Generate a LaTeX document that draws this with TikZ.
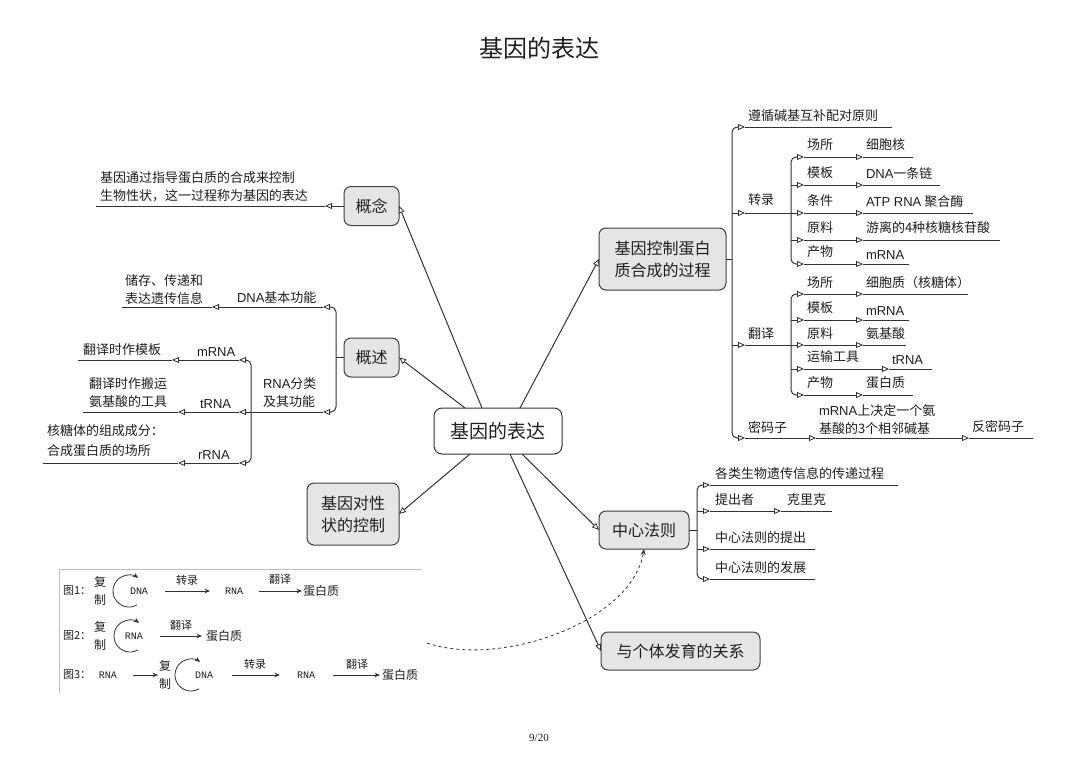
\documentclass[tikz,border=0pt]{standalone}
\usepackage{fontspec}
\setmainfont{Noto Sans CJK SC}
\newfontfamily\lat{Liberation Sans}
\newfontfamily\mono{Liberation Mono}
\newfontfamily\serifnum{Liberation Serif}
\usetikzlibrary{arrows.meta,calc}
\begin{document}
\begin{tikzpicture}[x=1pt,y=-1pt,
  every node/.style={inner sep=0pt, outer sep=0pt, text=black!88},
  lab/.style={anchor=west, font=\fontsize{13}{18}\selectfont, align=left},
  box/.style={draw=black!75, line width=1pt, rounded corners=7pt, fill=black!10,
    font=\fontsize{16}{22}\selectfont, align=center},
  ln/.style={line width=1pt, draw=black!80},
  tip/.style={ln, -{Triangle[length=7pt, width=6pt, fill=white, line width=0.8pt]}},
  rc/.style={rounded corners=5pt},
  sarr/.style={line width=0.8pt, draw=black!80, -{Stealth[length=5.5pt, width=4.5pt]}},
  simg/.style={font=\fontsize{12}{12}\selectfont},
  smono/.style={font=\mono\fontsize{10}{10}\selectfont},
  slab/.style={font=\fontsize{11}{11}\selectfont}
]
\fill[white] (0,0) rectangle (1080,764);
\useasboundingbox (0,0) rectangle (1080,764);

% title and page number
\node[font=\fontsize{24}{28}\selectfont] (title) at (539,48) {基因的表达};
\node[font=\serifnum\fontsize{11}{11}\selectfont] (page) at (539,738) {9/20};

% main nodes
\node[draw=black!80, line width=1pt, rounded corners=8pt, fill=white,
  minimum width=128pt, minimum height=46pt, font=\fontsize{19}{22}\selectfont] (c) at (498,431) {基因的表达};
\node[box, minimum width=55pt, minimum height=39pt] (gn) at (371.5,206) {概念};
\node[box, minimum width=55pt, minimum height=39pt] (gs) at (371.5,357.5) {概述};
\node[box, minimum width=92pt, minimum height=62pt] (jd) at (353,514) {基因对性\\状的控制};
\node[box, minimum width=127pt, minimum height=62pt] (jk) at (662.5,259) {基因控制蛋白\\质合成的过程};
\node[box, minimum width=90pt, minimum height=38pt] (zx) at (644,530) {中心法则};
\node[box, minimum width=159pt, minimum height=38pt] (fy) at (680.5,651) {与个体发育的关系};

% connectors from the centre
\draw[tip] ([xshift=-16pt]c.north) -- (gn.east);
\draw[tip] ([xshift=-33pt]c.north) -- (gs.east);
\draw[tip] ([xshift=22pt]c.north) -- (jk.west);
\draw[tip] ([xshift=-28pt]c.south) -- (jd.east);
\draw[tip] ([xshift=12pt]c.south) -- (fy.west);
\draw[tip] ([xshift=24pt]c.south) -- (zx.west);

% dashed curve
\coordinate (ds) at (427,643);
\draw[line width=0.8pt, draw=black!80, dashed, -{Stealth[length=6pt, width=5pt]}]
  (ds) .. controls (500,668) and (632,622) .. (zx.south);

% ===== right tree: 基因控制蛋白质合成的过程 =====
\coordinate (S) at (732,259);
\draw[ln] (jk.east) -- (S);
\draw[tip, rc] (S) -- (732,127) -- (745,127);
\draw[tip, rc] (S) -- (732,438) -- (745,438);
\draw[tip] (732,213) -- (745,213);
\draw[tip] (732,345) -- (745,345);
\draw[ln] (745,127) -- (892,127);
\node[lab] (r1) at (748,116) {遵循碱基互补配对原则};
% 转录
\draw[ln] (745,213) -- (791,213);
\node[lab] (zl) at (748,200) {转录};
\draw[tip, rc] (791,213) -- (791,157) -- (804,157);
\draw[tip, rc] (791,213) -- (791,264) -- (804,264);
\foreach \y in {185,213,240} {\draw[tip] (791,\y) -- (804,\y);}
\foreach \y/\e in {157/913,185/940,213/973,240/1000,264/909} {
  \draw[tip] (804,\y) -- (863,\y);
  \draw[ln] (863,\y) -- (\e,\y);
}
\node[lab] (za1) at (807,145) {场所};
\node[lab] (zb1) at (866,145) {细胞核};
\node[lab] (za2) at (807,173) {模板};
\node[lab] (zb2) at (866,174) {{\lat DNA}一条链};
\node[lab] (za3) at (807,201) {条件};
\node[lab] (zb3) at (866,202) {{\lat ATP RNA} 聚合酶};
\node[lab] (za4) at (807,228) {原料};
\node[lab] (zb4) at (866,228) {游离的4种核糖核苷酸};
\node[lab] (za5) at (807,252) {产物};
\node[lab] (zb5) at (866,255) {{\lat mRNA}};
% 翻译
\draw[ln] (745,345) -- (791,345);
\node[lab] (fl) at (748,334) {翻译};
\draw[tip, rc] (791,345) -- (791,294) -- (804,294);
\draw[tip, rc] (791,345) -- (791,395) -- (804,395);
\foreach \y in {320,345,369} {\draw[tip] (791,\y) -- (804,\y);}
\foreach \y/\e in {294/968,320/909,345/906,395/913} {
  \draw[tip] (804,\y) -- (863,\y);
  \draw[ln] (863,\y) -- (\e,\y);
}
\draw[tip] (804,369) -- (889,369);
\draw[ln] (889,369) -- (932,369);
\node[lab] (fa1) at (807,283) {场所};
\node[lab] (fb1) at (866,283) {细胞质（核糖体）};
\node[lab] (fa2) at (807,308) {模板};
\node[lab] (fb2) at (866,311) {{\lat mRNA}};
\node[lab] (fa3) at (807,334) {原料};
\node[lab] (fb3) at (866,334) {氨基酸};
\node[lab] (fa4) at (807,357) {运输工具};
\node[lab] (fb4) at (892,360) {{\lat tRNA}};
\node[lab] (fa5) at (807,383) {产物};
\node[lab] (fb5) at (866,383) {蛋白质};
% 密码子
\draw[tip] (745,438) -- (816,438);
\draw[tip] (816,438) -- (969,438);
\draw[ln] (969,438) -- (1033,438);
\node[lab] (mm) at (748,427) {密码子};
\node[lab] (mm2) at (819,419.5) {{\lat mRNA}上决定一个氨\\基酸的3个相邻碱基};
\node[lab] (mm3) at (972,427) {反密码子};

% ===== left tree: 概念 =====
\draw[tip] (gn.west) -- (325,206);
\draw[ln] (325,206) -- (96,206);
\node[lab] (gt) at (100,187) {基因通过指导蛋白质的合成来控制\\生物性状，这一过程称为基因的表达};

% ===== left tree: 概述 =====
\coordinate (L) at (336,357.5);
\draw[ln] (gs.west) -- (L);
\draw[tip, rc] (L) -- (336,307) -- (323,307);
\draw[tip, rc] (L) -- (336,412) -- (323,412);
\draw[tip] (323,307) -- (212,307);
\draw[ln] (212,307) -- (122,307);
\node[lab] (dn) at (237,298) {{\lat DNA}基本功能};
\node[lab] (dt) at (125,289.5) {储存、传递和\\表达遗传信息};
\draw[ln] (323,412) -- (251,412);
\node[lab] (rn) at (263,393) {{\lat RNA}分类\\及其功能};
\draw[tip, rc] (251,412) -- (251,360) -- (239,360);
\draw[tip, rc] (251,412) -- (251,463) -- (239,463);
\draw[tip] (251,412) -- (239,412);
\draw[tip] (239,360) -- (172,360); \draw[ln] (172,360) -- (78,360);
\draw[tip] (239,412) -- (178,412); \draw[ln] (178,412) -- (83,412);
\draw[tip] (239,463) -- (178,463); \draw[ln] (178,463) -- (43,463);
\node[lab] (m1) at (197,352) {{\lat mRNA}};
\node[lab] (m2) at (83,350) {翻译时作模板};
\node[lab] (t1) at (200,404) {{\lat tRNA}};
\node[lab] (t2) at (89,392.5) {翻译时作搬运\\氨基酸的工具};
\node[lab] (q1) at (198,455) {{\lat rRNA}};
\node[lab, font=\fontsize{13}{20}\selectfont] (q2) at (47,441) {核糖体的组成成分：\\合成蛋白质的场所};

% ===== 中心法则 subtree =====
\coordinate (Z) at (697,530);
\draw[ln] (zx.east) -- (Z);
\draw[tip, rc] (Z) -- (697,485) -- (710,485);
\draw[tip, rc] (Z) -- (697,579) -- (710,579);
\draw[tip] (697,511) -- (710,511);
\draw[tip] (697,549) -- (710,549);
\draw[ln] (710,485) -- (898,485);
\draw[tip] (710,511) -- (781,511); \draw[ln] (781,511) -- (832,511);
\draw[ln] (710,549) -- (815,549);
\draw[ln] (710,579) -- (815,579);
\node[lab] (z1) at (715,474) {各类生物遗传信息的传递过程};
\node[lab] (z2) at (715,500) {提出者};
\node[lab] (z3) at (787,500) {克里克};
\node[lab] (z4) at (715,538) {中心法则的提出};
\node[lab] (z5) at (715,568) {中心法则的发展};

% ===== inset picture =====
\draw[black!25, line width=0.6pt] (422,569) -- (59,569) -- (59,693);
% row 1
\node[slab, anchor=west] (p1) at (63,591) {图1：};
\node[simg] (p1a) at (100,582) {复};
\node[simg] (p1b) at (100,600) {制};
\draw[sarr] (129,591) ++(60:16) arc[start angle=60, end angle=305, radius=16];
\node[smono] (p1c) at (139,591) {DNA};
\draw[sarr] (165,591) -- (210,591);
\node[slab] (p1d) at (187,580) {转录};
\node[smono] (p1e) at (234,591) {RNA};
\draw[sarr] (259,591) -- (302,591);
\node[slab] (p1f) at (280,579) {翻译};
\node[simg, anchor=west] (p1g) at (303,591) {蛋白质};
% row 2
\node[slab, anchor=west] (p2) at (63,636) {图2：};
\node[simg] (p2a) at (100,627) {复};
\node[simg] (p2b) at (100,645) {制};
\draw[sarr] (130,636) ++(60:16) arc[start angle=60, end angle=305, radius=16];
\node[smono] (p2c) at (134,636) {RNA};
\draw[sarr] (160,636) -- (202,636);
\node[slab] (p2d) at (181,625) {翻译};
\node[simg, anchor=west] (p2e) at (206,636) {蛋白质};
% row 3
\node[slab, anchor=west] (p3) at (63,675) {图3：};
\node[smono] (p3a) at (108,675) {RNA};
\draw[sarr] (133,675) -- (158,675);
\node[simg] (p3b) at (165,666) {复};
\node[simg] (p3c) at (165,684) {制};
\draw[sarr] (191,675) ++(60:16) arc[start angle=60, end angle=305, radius=16];
\node[smono] (p3d) at (204,675) {DNA};
\draw[sarr] (232,675) -- (280,675);
\node[slab] (p3e) at (255,664) {转录};
\node[smono] (p3f) at (306,675) {RNA};
\draw[sarr] (333,675) -- (380,675);
\node[slab] (p3g) at (357,664) {翻译};
\node[simg, anchor=west] (p3h) at (382,675) {蛋白质};
\end{tikzpicture}
\end{document}
